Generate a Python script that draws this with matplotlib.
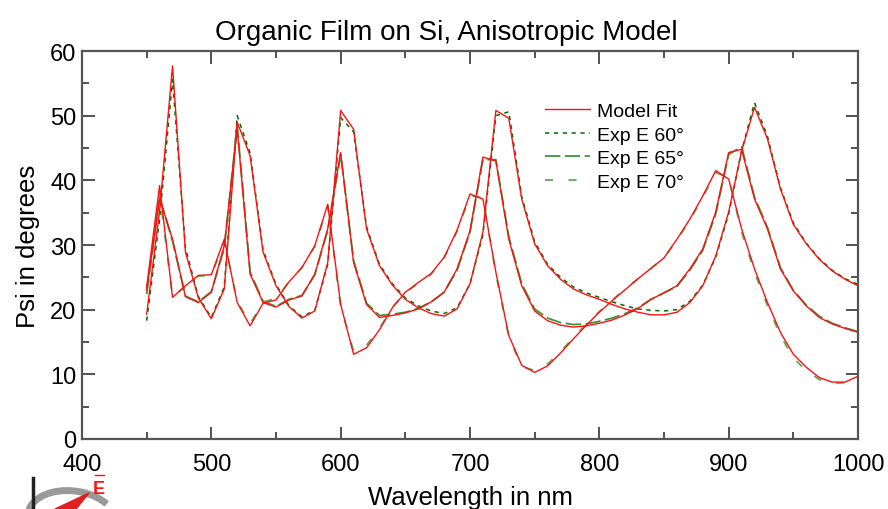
import numpy as np
import matplotlib
matplotlib.use("Agg")
import matplotlib.pyplot as plt
from matplotlib.patches import Arc, Polygon
from matplotlib.ticker import MultipleLocator

plt.rcParams['font.family'] = ['Liberation Sans', 'DejaVu Sans']

# wavelength grid (nm)
wavelength = np.arange(450, 1001, 10)

# model fit (red) for each angle
fit_60 = [19.3, 35.3, 57.7, 28.9, 21.8, 18.6, 23.2, 49.0, 43.8, 28.9, 23.7,
          20.5, 18.7, 19.8, 27.3, 50.8, 47.9, 32.5, 26.8, 23.8, 21.6,
          20.3, 19.4, 19.0, 20.1, 24.0, 32.0, 50.8, 49.6, 37.1, 30.2,
          26.8, 24.7, 23.2, 22.3, 21.6, 20.8, 20.1, 19.6, 19.2, 19.2,
          19.6, 21.1, 23.7, 28.3, 35.1, 44.5, 51.3, 46.4, 38.7, 33.2,
          30.2, 27.8, 26.0, 24.7, 23.7]
fit_65 = [23.0, 37.2, 30.9, 22.0, 21.1, 22.7, 29.9, 48.0, 25.5, 21.1, 20.4,
          21.5, 22.1, 25.5, 32.5, 44.3, 27.3, 20.8, 18.8, 19.1, 19.5,
          20.1, 21.2, 22.7, 26.3, 32.2, 43.6, 43.0, 30.9, 23.7, 19.8,
          18.3, 17.6, 17.3, 17.5, 17.9, 18.4, 19.2, 20.2, 21.6, 22.6,
          23.7, 26.3, 29.4, 35.1, 44.3, 44.8, 37.1, 32.5, 26.3, 22.9,
          20.6, 18.8, 17.8, 17.1, 16.5]
fit_70 = [23.5, 39.2, 21.9, 23.7, 25.3, 25.4, 30.9, 21.1, 17.5, 21.0, 21.5,
          24.3, 26.5, 29.9, 36.3, 20.8, 13.1, 14.1, 16.9, 20.3, 22.7,
          24.2, 25.6, 28.1, 32.3, 37.9, 37.1, 25.8, 16.0, 11.4, 10.3,
          11.3, 13.3, 15.5, 17.6, 19.6, 21.4, 23.1, 24.8, 26.4, 28.0,
          30.9, 34.0, 37.6, 41.5, 40.2, 32.5, 26.3, 21.1, 16.5, 13.1,
          11.1, 9.5, 8.8, 8.8, 9.7]

# measured data (green)
exp_60 = [18.3, 34.0, 55.6, 29.5, 22.0, 18.8, 23.5, 50.0, 44.2, 29.2, 23.9,
          20.6, 18.9, 19.9, 27.0, 49.7, 47.5, 32.8, 27.0, 24.0, 21.8,
          20.6, 19.8, 19.4, 20.3, 24.0, 31.6, 50.0, 50.6, 37.5, 30.5,
          27.0, 25.0, 23.5, 22.6, 21.9, 21.2, 20.6, 20.1, 19.9, 19.8,
          20.0, 21.3, 23.8, 28.1, 34.8, 44.6, 52.0, 46.8, 38.9, 33.4,
          30.3, 27.9, 26.1, 24.8, 23.9]
exp_65 = [22.4, 37.4, 30.6, 22.1, 21.2, 22.8, 29.5, 48.5, 25.8, 21.3, 20.5,
          21.6, 22.2, 25.4, 32.3, 44.0, 27.6, 21.0, 19.1, 19.3, 19.6,
          20.2, 21.2, 22.7, 26.1, 32.0, 43.2, 43.2, 31.3, 24.0, 20.1,
          18.7, 18.0, 17.7, 17.8, 18.2, 18.7, 19.4, 20.3, 21.6, 22.6,
          23.6, 26.1, 29.2, 34.8, 44.0, 45.2, 37.4, 32.7, 26.5, 23.0,
          20.7, 19.0, 17.9, 17.2, 16.6]
exp_70 = [22.8, 38.0, 22.0, 23.6, 25.2, 25.3, 30.5, 21.3, 17.8, 21.2, 21.7,
          24.3, 26.5, 29.8, 36.0, 20.5, 13.6, 14.5, 17.1, 20.4, 22.6,
          24.1, 25.5, 28.0, 32.1, 37.6, 37.3, 25.5, 15.8, 11.2, 10.6,
          11.6, 13.5, 15.7, 17.8, 19.7, 21.5, 23.2, 24.8, 26.4, 28.0,
          30.8, 33.8, 37.4, 41.2, 40.4, 32.0, 25.8, 20.6, 16.0, 12.5,
          10.6, 9.2, 8.6, 8.7, 9.9]

fig = plt.figure(figsize=(8.88, 5.10), dpi=100)
ax = fig.add_axes([82 / 888, 1 - 440 / 510, 776 / 888, 388 / 510])

red = '#ff1010'
ax.plot(wavelength, fit_60, color=red, lw=1.0, label='Model Fit', zorder=3)
ax.plot(wavelength, fit_65, color=red, lw=1.0, zorder=3)
ax.plot(wavelength, fit_70, color=red, lw=1.0, zorder=3)

ax.plot(wavelength, exp_60, color='#006b00', lw=1.1, dashes=(2.8, 3.0), label='Exp E 60°', zorder=2)
ax.plot(wavelength, exp_65, color='#3a963a', lw=1.3, dashes=(8.5, 2.5), label='Exp E 65°', zorder=2)
ax.plot(wavelength, exp_70, color='#5aae5a', lw=1.3, dashes=(4.5, 8.5), label='Exp E 70°', zorder=2)

ax.set_xlim(400, 1000)
ax.set_ylim(0, 60)
ax.xaxis.set_major_locator(MultipleLocator(100))
ax.xaxis.set_minor_locator(MultipleLocator(50))
ax.yaxis.set_major_locator(MultipleLocator(10))
ax.yaxis.set_minor_locator(MultipleLocator(5))
ax.tick_params(which='both', direction='in', top=True, right=True, colors='#333333',
               labelcolor='black', labelsize=17)
ax.tick_params(which='major', length=9, width=1.2)
ax.tick_params(which='minor', length=5, width=1.2)
ax.tick_params(axis='x', which='both', pad=10)
ax.tick_params(axis='y', which='both', pad=4)
for s in ax.spines.values():
    s.set_color('#555555')
    s.set_linewidth(1.6)

ax.set_xlabel('Wavelength in nm', fontsize=18.5, labelpad=7)
ax.set_ylabel('Psi in degrees', fontsize=18.5, labelpad=7)
ax.set_title('Organic Film on Si, Anisotropic Model', fontsize=20, pad=9, x=0.469)

leg = ax.legend(loc='upper left', bbox_to_anchor=(0.597, 0.867), frameon=False,
                fontsize=14, handlelength=2.3, handletextpad=0.36, labelspacing=0.3,
                borderpad=0, borderaxespad=0)

# logo bits in the bottom-left corner
fig.add_artist(plt.Line2D([33 / 888, 33 / 888], [0, 1 - 479 / 510], color='#222222', lw=2.5))
fig.add_artist(Arc((72 / 888, 1 - 520 / 510), 86 / 888, 58 / 510, angle=22,
                   theta1=15, theta2=170, color='#999999', lw=5, transform=fig.transFigure))
fig.add_artist(Polygon([(55 / 888, 0), (89 / 888, 1 - 494 / 510), (76 / 888, 0)],
                       closed=True, color='#e02020', transform=fig.transFigure))
fig.text(93 / 888, 1 - 494 / 510, 'E', color='#ff1010', fontsize=13, fontweight='bold')
fig.add_artist(plt.Line2D([95 / 888, 104 / 888], [1 - 476 / 510, 1 - 476 / 510], color='#ff1010', lw=1))

fig.savefig('out.png', dpi=100)
